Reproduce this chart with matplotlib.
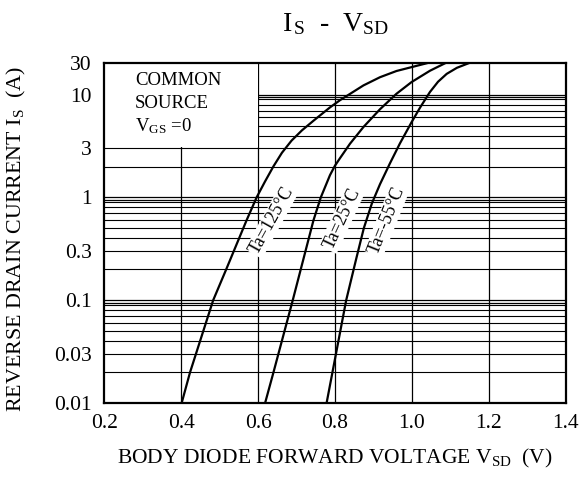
import numpy as np
import matplotlib
matplotlib.use("Agg")
import matplotlib.pyplot as plt
from matplotlib.patches import Rectangle

plt.rcParams['font.family'] = ['Liberation Serif', 'DejaVu Serif']
plt.rcParams['mathtext.fontset'] = 'custom'
plt.rcParams['mathtext.rm'] = 'Liberation Serif'
plt.rcParams['mathtext.it'] = 'Liberation Serif:italic'

# ---- data ----
v_125 = [0.401, 0.423, 0.483, 0.517, 0.570, 0.596, 0.618, 0.640, 0.662, 0.687,
         0.714, 0.744, 0.787, 0.813, 0.874, 0.917, 0.960, 1.000, 1.038]
i_125 = [0.01, 0.02, 0.1, 0.2, 0.6, 1.0, 1.43, 2.01, 2.72, 3.57,
         4.49, 5.57, 7.51, 8.82, 13.8, 18.4, 22.9, 26.3, 30]

v_25 = [0.618, 0.640, 0.690, 0.744, 0.763, 0.787, 0.800, 0.813, 0.839, 0.874,
        0.917, 0.960, 0.999, 1.047, 1.086]
i_25 = [0.01, 0.02, 0.1, 0.6, 1.0, 1.65, 2.04, 2.41, 3.33, 4.84,
        7.2, 10.3, 15.5, 23.1, 30]

v_m55 = [0.778, 0.829, 0.855, 0.875, 0.896, 0.917, 0.943, 0.969, 0.9995, 1.021,
         1.047, 1.068, 1.0905, 1.117, 1.147]
i_m55 = [0.01, 0.1, 0.252, 0.504, 0.878, 1.345, 2.15, 3.36, 5.42, 7.45,
         10.96, 15.7, 20.7, 25.6, 30]

x_ticks = [0.2, 0.4, 0.6, 0.8, 1.0, 1.2, 1.4]
x_tick_labels = ['0.2', '0.4', '0.6', '0.8', '1.0', '1.2', '1.4']
y_ticks = [0.01, 0.03, 0.1, 0.3, 1, 3, 10, 30]
y_tick_labels = ['0.01', '0.03', '0.1', '0.3', '1', '3', '10', '30']
curve_labels = ['Ta=125°C', 'Ta=25°C', 'Ta=-55°C']

# ---- scale: log, with the top 10..30 span compressed as in the original sheet ----
K = 0.637

def fwd(y):
    y = np.asarray(y, dtype=float)
    ly = np.log10(np.clip(y, 1e-12, None))
    return np.where(ly <= 1, ly, 1 + (ly - 1) * K)

def inv(v):
    v = np.asarray(v, dtype=float)
    return np.where(v <= 1, 10 ** v, 10 ** (1 + (v - 1) / K))

FS = 15.5
fig = plt.figure(figsize=(5.82, 4.88), dpi=100)
ax = fig.add_axes([104.3 / 582, 1 - 403.3 / 488, (565.7 - 104.3) / 582, (403.3 - 63.3) / 488])
ax.set_yscale('function', functions=(fwd, inv))
ax.set_xlim(0.2, 1.4)
ax.set_ylim(0.01, 30)

# grid (decade lines are drawn doubled, as on the sheet)
minor = [m * 10.0 ** e for e in (-2, -1, 0) for m in range(2, 10)]
decades = [0.1, 1, 10]
for y in minor:
    ax.axhline(y, color='black', lw=0.8, zorder=1)
for y in decades:
    ax.axhline(y, color='black', lw=0.9, zorder=1)
    ax.axhline(y * 0.95, color='black', lw=0.9, zorder=1)
for x in x_ticks[1:-1]:
    ax.axvline(x, color='black', lw=0.9, zorder=1)

# white area behind the condition text
ax.add_patch(Rectangle((0.2, 3.1), 0.4, 30 - 3.1, facecolor='white',
                       edgecolor='none', zorder=2))
for t, yf in zip(['COMMON', 'SOURCE', r'$\mathrm{V_{GS}}$ =0'], [0.936, 0.868, 0.801]):
    ax.text(0.0665, yf, t, fontsize=13.5, transform=ax.transAxes,
            va='baseline', ha='left', zorder=3)

# curves
for v, i in ((v_125, i_125), (v_25, i_25), (v_m55, i_m55)):
    ax.plot(v, i, color='black', lw=1.6, zorder=5, solid_joinstyle='round')

# curve labels
lab_pos = [(0.636, 0.60, 61), (0.818, 0.62, 65), (0.935, 0.60, 68)]
for (x, y, r), t in zip(lab_pos, curve_labels):
    ax.text(x, y, t, fontsize=13, rotation=r, ha='center', va='center',
            rotation_mode='anchor', zorder=4,
            bbox=dict(facecolor='white', edgecolor='none', pad=1.0))

ax.set_xticks(x_ticks)
ax.set_xticklabels(x_tick_labels, fontsize=FS)
ax.set_yticks(y_ticks)
ax.set_yticklabels(y_tick_labels, fontsize=FS)
ax.yaxis.set_minor_locator(matplotlib.ticker.NullLocator())
ax.tick_params(axis='both', length=0)
ax.tick_params(axis='y', pad=9)
ax.tick_params(axis='x', pad=8)
for s in ax.spines.values():
    s.set_linewidth(1.6)
    s.set_zorder(6)

xc = (104.3 + 565.7) / 2 / 582
fig.text(xc, 1 - 24 / 488,
         r'$\mathrm{I}_{\,\mathrm{S}}$  -  $\mathrm{V}_{\mathrm{SD}}$',
         fontsize=20, ha='center', va='center')
fig.text(xc, 1 - 463 / 488,
         r'BODY DIODE FORWARD VOLTAGE $\mathrm{V_{SD}}$  (V)',
         fontsize=FS, ha='center', va='baseline')
fig.text(16 / 582, 1 - 239 / 488,
         r'REVERSE DRAIN CURRENT $\mathrm{I_S}$  (A)',
         fontsize=15.8, ha='center', va='center', rotation=90)

fig.savefig('out.png', dpi=100)
